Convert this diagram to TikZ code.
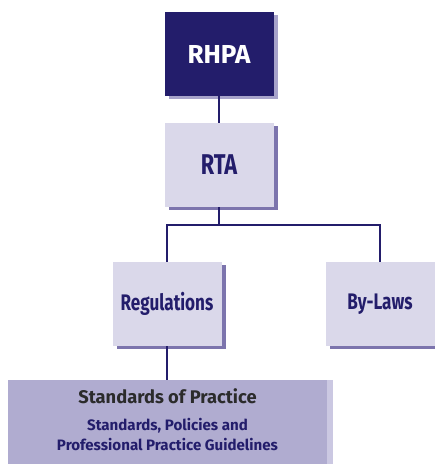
\documentclass[tikz,border=0pt]{standalone}
\usepackage{fontspec}
\newfontfamily\chartfont{Fira Sans}[FakeStretch=0.76]
\newfontfamily\headfont{Fira Sans}
\usetikzlibrary{shadows}

\definecolor{navy}{HTML}{231D6B}
\definecolor{navyshade}{HTML}{A7A3CA}
\definecolor{lilac}{HTML}{DAD8EA}
\definecolor{lilacshade}{HTML}{7C74AD}
\definecolor{mauve}{HTML}{B0ACD0}
\definecolor{mauveshade}{HTML}{CBC8E2}
\definecolor{titlegrey}{HTML}{2B2B2B}

\begin{document}
\begin{tikzpicture}[x=1pt,y=-1pt,
    box/.style={rectangle,minimum width=109pt,minimum height=84pt,inner sep=0pt,
        font=\chartfont\bfseries\fontsize{22.5}{26}\selectfont},
    topbox/.style={box,fill=navy,text=white,
        general shadow={fill=navyshade,shadow xshift=4pt,shadow yshift=-3pt}},
    lawbox/.style={box,fill=lilac,text=navy,
        general shadow={fill=lilacshade,shadow xshift=4pt,shadow yshift=-3pt}},
    link/.style={draw=navy,line width=2.5pt}]
    \useasboundingbox (0,0) rectangle (435,464);

    \node[topbox,font=\headfont\bfseries\fontsize{26}{30}\selectfont] (rhpa) at (219,54) {RHPA};
    \node[lawbox,font=\chartfont\bfseries\fontsize{28.6}{32}\selectfont] (rta) at (219,165) {RTA};
    \node[lawbox] (reg) at (167,304) {Regulations};
    \node[lawbox] (bylaws) at (380,304) {By-Laws};
    \node[rectangle,fill=mauve,text=navy,minimum width=319pt,minimum height=85pt,
        inner sep=0pt,align=center,font=\headfont\bfseries\fontsize{15.1}{20}\selectfont,
        general shadow={fill=mauveshade,shadow xshift=6pt,shadow yshift=0pt}]
        (sop) at (167.5,422.5)
        {{\fontsize{18.3}{20}\selectfont\color{titlegrey}Standards of Practice}\\[7pt]
         Standards, Policies and\\
         Professional Practice Guidelines\rule[-5.5pt]{0pt}{0pt}};
    \coordinate (split) at (219,225);

    \draw[link] (rhpa) -- (rta);
    \draw[link] (rta) -- (split);
    \draw[link] (split) -| (reg);
    \draw[link] (split) -| (bylaws);
    \draw[link] (reg.south) -- (reg.south |- sop.north);
\end{tikzpicture}
\end{document}
